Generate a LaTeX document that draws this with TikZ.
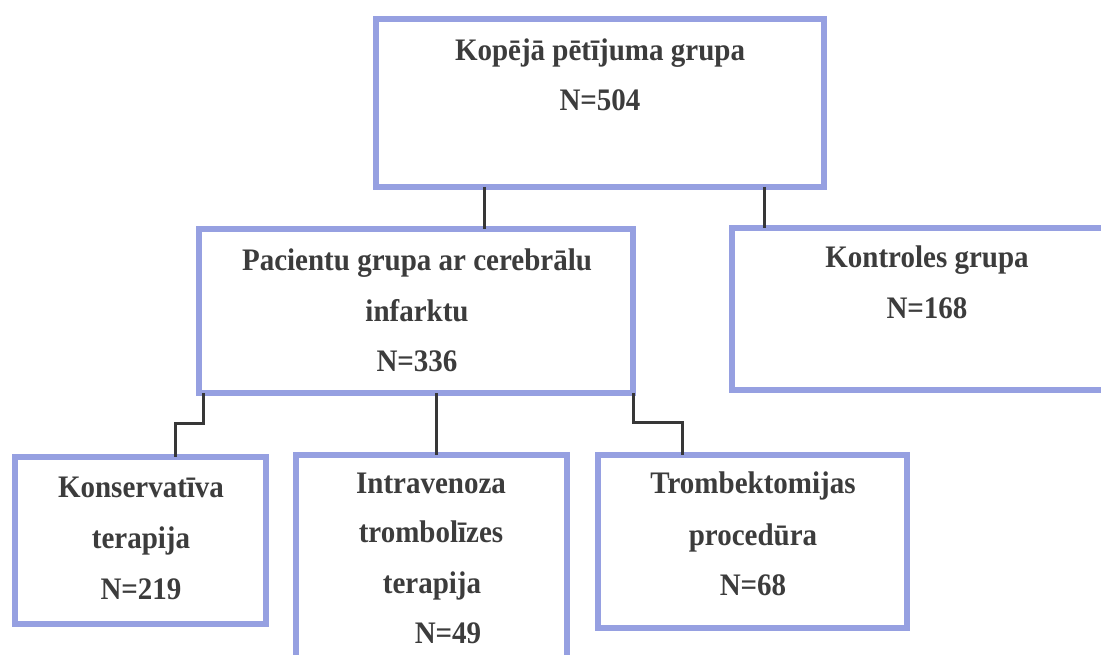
\documentclass[tikz,border=0pt]{standalone}
\usepackage{fontspec}
\usepackage{graphicx}
\setmainfont{Liberation Serif}
\definecolor{boxc}{RGB}{150,160,225}
\definecolor{txtc}{RGB}{60,60,60}
\definecolor{linec}{RGB}{55,55,55}
\newcommand\tallt[1]{\scalebox{1}[1.08]{#1}}
\begin{document}
\begin{tikzpicture}[x=1pt,y=-1pt,
  box/.style={draw=boxc,line width=6pt,inner sep=0pt,rectangle},
  lbl/.style={anchor=base,inner sep=0pt,text=txtc,font=\fontsize{29}{34}\selectfont\bfseries},
  conn/.style={draw=linec,line width=3pt}]
\useasboundingbox (0,0) rectangle (1101,655);
\clip (0,0) rectangle (1101,655);
\fill[white] (0,0) rectangle (1101,655);
% boxes
\node[box,minimum width=448pt,minimum height=168pt] (top) at (600,103) {};
\node[box,minimum width=434pt,minimum height=164pt] (pac) at (416,311) {};
\node[box,minimum width=383pt,minimum height=162pt] (kon) at (923.5,309) {};
\node[box,minimum width=251pt,minimum height=167pt] (kons) at (140.5,540.5) {};
\node[box,minimum width=271pt,minimum height=205pt] (intra) at (431.5,557.5) {};
\node[box,minimum width=309pt,minimum height=173pt] (tromb) at (752.5,541.5) {};
% texts
\node[lbl] (t1) at (600,61) {\tallt{Kopējā pētījuma grupa}};
\node[lbl] (t2) at (600,111) {\tallt{N=504}};
\node[lbl] (p1) at (417,271) {\tallt{Pacientu grupa ar cerebrālu}};
\node[lbl] (p2) at (417,321) {\tallt{infarktu}};
\node[lbl] (p3) at (417,371) {\tallt{N=336}};
\node[lbl] (k1) at (927,268) {\tallt{Kontroles grupa}};
\node[lbl] (k2) at (927,319) {\tallt{N=168}};
\node[lbl] (a1) at (141,497) {\tallt{Konservatīva}};
\node[lbl] (a2) at (141,548) {\tallt{terapija}};
\node[lbl] (a3) at (141,599) {\tallt{N=219}};
\node[lbl] (b1) at (431,493) {\tallt{Intravenoza}};
\node[lbl] (b2) at (431,542) {\tallt{trombolīzes}};
\node[lbl] (b3) at (432,593) {\tallt{terapija}};
\node[lbl] (b4) at (448,643) {\tallt{N=49}};
\node[lbl] (c1) at (753,493) {\tallt{Trombektomijas}};
\node[lbl] (c2) at (753,545) {\tallt{procedūra}};
\node[lbl] (c3) at (753,595) {\tallt{N=68}};
% connector guide coordinates
\coordinate (xa) at (484,0);
\coordinate (xb) at (764,0);
\coordinate (xc) at (203,0);
\coordinate (sl) at (175,423);
\coordinate (xd) at (436,0);
\coordinate (xe) at (633,0);
\coordinate (sr) at (682,422);
% connectors
\draw[conn] ([yshift=3pt]top.south -| xa) -- ([yshift=-3pt]pac.north -| xa);
\draw[conn] ([yshift=3pt]top.south -| xb) -- ([yshift=-3pt]kon.north -| xb);
\draw[conn] ([yshift=3pt]pac.south -| xc) -- (xc |- sl) -- (sl) -- ([yshift=-3pt]kons.north -| sl);
\draw[conn] ([yshift=3pt]pac.south -| xd) -- ([yshift=-3pt]intra.north -| xd);
\draw[conn] ([yshift=3pt]pac.south -| xe) -- (xe |- sr) -- (sr) -- ([yshift=-3pt]tromb.north -| sr);
\end{tikzpicture}
\end{document}
